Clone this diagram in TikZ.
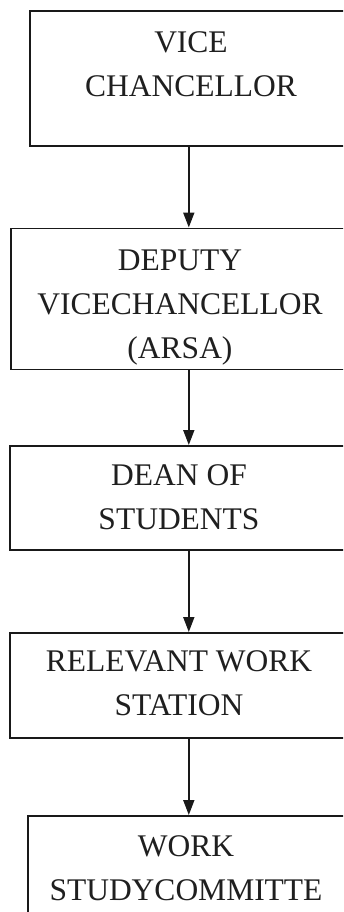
\documentclass[tikz,border=0pt]{standalone}
\usepackage{fontspec}
\setmainfont{Liberation Serif}
\usetikzlibrary{arrows.meta}
\begin{document}
\begin{tikzpicture}[x=1pt,y=-1pt,
  box/.style={draw=black!90, line width=1.6pt, rectangle, inner sep=0pt, anchor=north west},
  lbl/.style={align=center, inner sep=0pt, anchor=base, text=black!88,
    font=\fontsize{31.5}{44}\selectfont},
  arr/.style={draw=black!90, line width=1.8pt, -{Triangle[width=11pt,length=15pt]}}]
\useasboundingbox (0,0) rectangle (343,912);
\clip (0,0) rectangle (343,912);
\fill[white] (0,0) rectangle (343,912);
\node[box, minimum width=318pt, minimum height=134.5pt] (b1) at (29,10.5) {};
\node[box, minimum width=356pt, minimum height=141pt] (b2) at (10,227.5) {};
\node[box, minimum width=358pt, minimum height=104pt] (b3) at (9,445) {};
\node[box, minimum width=358pt, minimum height=105pt] (b4) at (9,632) {};
\node[box, minimum width=322pt, minimum height=130pt] (b5) at (27,815) {};
\node[lbl] (t1) at (191,97) {VICE\\CHANCELLOR};
\node[lbl] (t2) at (180,358) {DEPUTY\\VICECHANCELLOR\\(ARSA)};
\node[lbl] (t3) at (179,529) {DEAN OF\\STUDENTS};
\node[lbl] (t4) at (179,715) {RELEVANT WORK\\STATION};
\node[lbl] (t5) at (186,900) {WORK\\STUDYCOMMITTE};
\draw[arr] (b1.south) -- (b2.north);
\draw[arr] (b2.south) -- (b3.north);
\draw[arr] (b3.south) -- (b4.north);
\draw[arr] (b4.south) -- (b5.north);
\end{tikzpicture}
\end{document}
